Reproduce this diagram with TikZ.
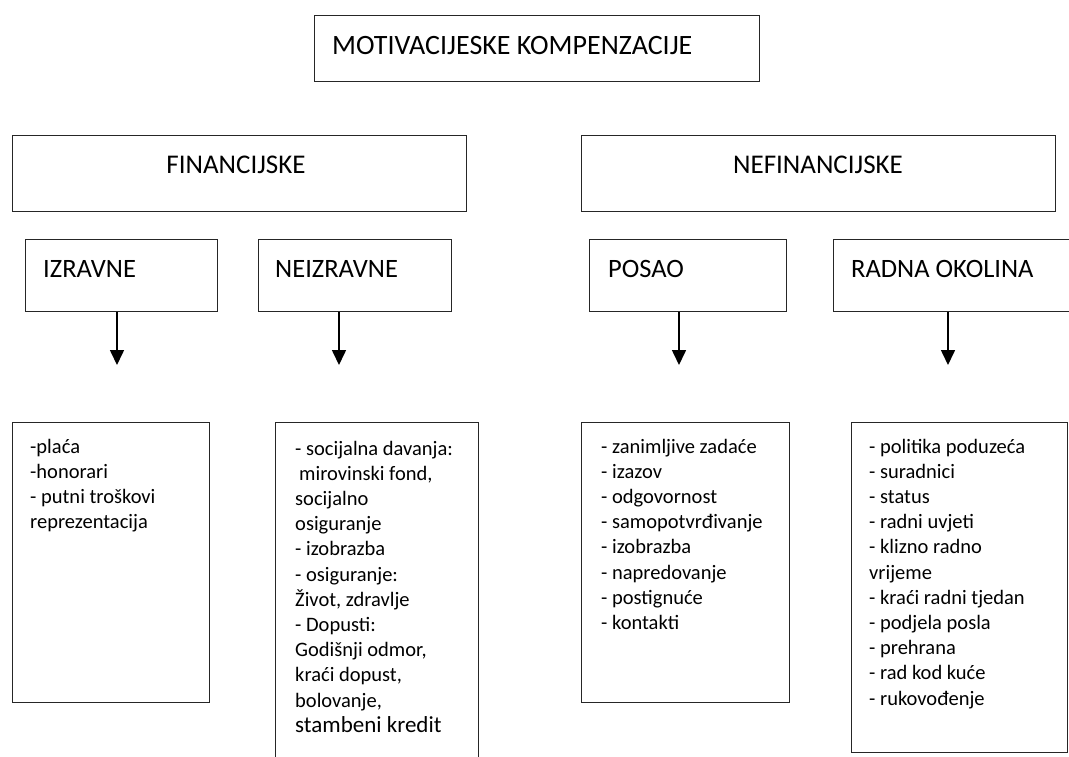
\documentclass[tikz,border=0pt]{standalone}
\usepackage{fontspec}
\setmainfont{Carlito}
\usetikzlibrary{arrows.meta}
\newcommand\rowline[1]{\hbox{#1}}
\begin{document}
\begin{tikzpicture}[x=1pt,y=-1pt,
  box/.style={draw=black!85, line width=1.3pt, rectangle, inner sep=0pt, anchor=north west},
  titletext/.style={anchor=base west, inner sep=0pt, font=\fontsize{28}{32}\selectfont},
  headc/.style={anchor=base, inner sep=0pt, font=\fontsize{27}{30}\selectfont},
  headl/.style={anchor=base west, inner sep=0pt, font=\fontsize{26.5}{30}\selectfont},
  listtext/.style={anchor=base west, inner sep=0pt, font=\fontsize{20.5}{25.2}\selectfont},
  arr/.style={line width=1.6pt, -{Triangle[width=14pt,length=15pt]}}
]
\clip (0,0) rectangle (1069,756);
\fill[white] (0,0) rectangle (1069,756);

% level boxes
\node[box, minimum width=445pt, minimum height=66pt] (top) at (314,15) {};
\node[box, minimum width=454pt, minimum height=76pt] (fin) at (12,135) {};
\node[box, minimum width=474pt, minimum height=76pt] (nefin) at (581,135) {};
\node[box, minimum width=192pt, minimum height=72pt] (izr) at (25,239) {};
\node[box, minimum width=193pt, minimum height=72pt] (neizr) at (258,239) {};
\node[box, minimum width=197pt, minimum height=72pt] (posao) at (589,239) {};
\node[box, minimum width=260pt, minimum height=72pt] (radna) at (833,239) {};
\node[box, minimum width=197pt, minimum height=280pt] (l1) at (12,422) {};
\node[box, minimum width=203pt, minimum height=360pt] (l2) at (275,422) {};
\node[box, minimum width=208pt, minimum height=280pt] (l3) at (581,422) {};
\node[box, minimum width=216pt, minimum height=330pt] (l4) at (851,422) {};

% header texts
\node[titletext] (topT) at (332,54) {MOTIVACIJESKE KOMPENZACIJE};
\node[headc] (finT) at (236,173) {FINANCIJSKE};
\node[headc] (nefinT) at (818,173) {NEFINANCIJSKE};
\node[headl] (izrT) at (43,277) {IZRAVNE};
\node[headl] (neizrT) at (275,277) {NEIZRAVNE};
\node[headl] (posaoT) at (608,277) {POSAO};
\node[headl] (radnaT) at (851,277) {RADNA OKOLINA};

% arrows
\coordinate (a1) at (117,365);
\coordinate (a2) at (339,365);
\coordinate (a3) at (679,365);
\coordinate (a4) at (948,365);
\draw[arr] (izr.south -| a1) -- (a1);
\draw[arr] (neizr.south -| a2) -- (a2);
\draw[arr] (posao.south -| a3) -- (a3);
\draw[arr] (radna.south -| a4) -- (a4);

% list texts
\node[listtext] (l1T) at (30,453) {\vtop{%
  \rowline{-plaća}
  \rowline{-honorari}
  \rowline{- putni troškovi}
  \rowline{reprezentacija}}};
\node[listtext] (l2T) at (295,455) {\vtop{%
  \rowline{- socijalna davanja:}
  \rowline{\hspace*{4pt}mirovinski fond,}
  \rowline{socijalno}
  \rowline{osiguranje}
  \rowline{- izobrazba}
  \rowline{- osiguranje:}
  \rowline{Život, zdravlje}
  \rowline{- Dopusti:}
  \rowline{Godišnji odmor,}
  \rowline{kraći dopust,}
  \rowline{bolovanje,}
  \rowline{\fontsize{23}{25.2}\selectfont stambeni kredit}}};
\node[listtext] (l3T) at (601,453) {\vtop{%
  \rowline{- zanimljive zadaće}
  \rowline{- izazov}
  \rowline{- odgovornost}
  \rowline{- samopotvrđivanje}
  \rowline{- izobrazba}
  \rowline{- napredovanje}
  \rowline{- postignuće}
  \rowline{- kontakti}}};
\node[listtext] (l4T) at (869,453) {\vtop{%
  \rowline{- politika poduzeća}
  \rowline{- suradnici}
  \rowline{- status}
  \rowline{- radni uvjeti}
  \rowline{- klizno radno}
  \rowline{vrijeme}
  \rowline{- kraći radni tjedan}
  \rowline{- podjela posla}
  \rowline{- prehrana}
  \rowline{- rad kod kuće}
  \rowline{- rukovođenje}}};
\end{tikzpicture}
\end{document}
